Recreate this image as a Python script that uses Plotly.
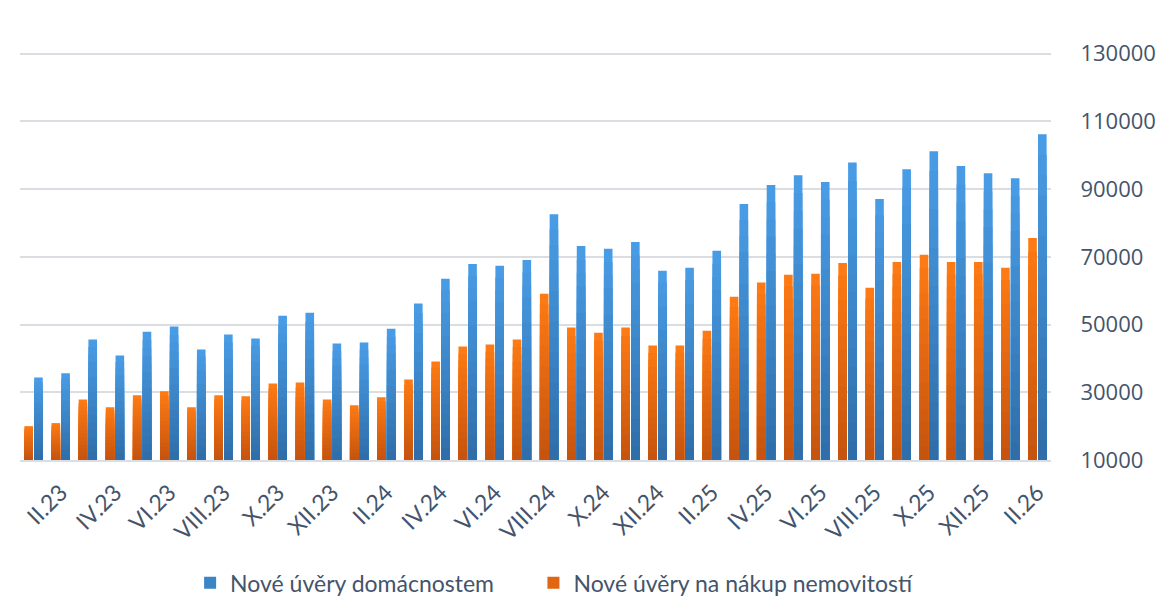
import plotly.graph_objects as go

categories = ["I.23", "II.23", "III.23", "IV.23", "V.23", "VI.23", "VII.23", "VIII.23", "IX.23", "X.23", "XI.23", "XII.23",
              "I.24", "II.24", "III.24", "IV.24", "V.24", "VI.24", "VII.24", "VIII.24", "IX.24", "X.24", "XI.24", "XII.24",
              "I.25", "II.25", "III.25", "IV.25", "V.25", "VI.25", "VII.25", "VIII.25", "IX.25", "X.25", "XI.25", "XII.25",
              "I.26", "II.26"]

uvery_domacnostem = [34400, 35600, 45600, 40900, 47900, 49400, 42600, 47100, 45900, 52600, 53500, 44400,
                     44700, 48800, 56200, 63500, 67900, 67400, 69100, 82600, 73200, 72400, 74400, 65900,
                     66800, 71800, 85600, 91200, 94100, 92100, 97900, 87100, 95900, 101200, 96800, 94700,
                     93200, 106200]

uvery_nemovitosti = [20000, 20900, 27900, 25600, 29100, 30300, 25600, 29100, 28800, 32600, 32900, 27900,
                     26200, 28500, 33800, 39100, 43500, 44100, 45600, 59100, 49100, 47600, 49100, 43800,
                     43800, 48200, 58200, 62400, 64700, 65000, 68200, 60900, 68500, 70600, 68500, 68500,
                     66800, 75600]

tick_labels = categories[1::2]

y_min, y_max = 10000, 130000
y_tickvals = [10000, 30000, 50000, 70000, 90000, 110000, 130000]

FONT = "Lato, 'Open Sans', sans-serif"
FONT_Y = "'Open Sans', Lato, sans-serif"
TEXT = "#44546A"
GRID = "#DADEE3"

series = [
    ("Nové úvěry na nákup nemovitostí", uvery_nemovitosti, (255, 123, 20), (196, 83, 14), "o", "legend2"),
    ("Nové úvěry domácnostem", uvery_domacnostem, (73, 157, 231), (47, 109, 168), "b", "legend"),
]

N = 16


def mix(c1, c2, t):
    return "rgb({},{},{})".format(*[round(a * t + b * (1 - t)) for a, b in zip(c1, c2)])


fig = go.Figure()
for name, vals, top, bot, grp, leg in series:
    for k in range(N, 0, -1):
        frac = k / N
        ys = [y_min + (v - y_min) * frac for v in vals]
        col = mix(top, bot, (k - 0.5) / N)
        fig.add_trace(go.Bar(
            x=categories, y=ys, name=name,
            offsetgroup=grp,
            marker=dict(color=col, line=dict(width=0)),
            showlegend=(k == N // 2),
            legend=leg,
            hoverinfo="skip",
        ))

legend_font = dict(family=FONT, size=23, color=TEXT)

fig.update_layout(
    width=1163, height=602,
    margin=dict(l=12, r=120, t=44, b=150, autoexpand=False),
    paper_bgcolor="white", plot_bgcolor="white",
    barmode="group", bargap=0.28, bargroupgap=0.12,
    font=dict(family=FONT, size=22, color=TEXT),
    showlegend=True,
    legend=dict(orientation="h", x=0.165, xanchor="left", y=-0.301, yanchor="middle",
                font=legend_font, bgcolor="rgba(0,0,0,0)", borderwidth=0),
    legend2=dict(orientation="h", x=0.498, xanchor="left", y=-0.301, yanchor="middle",
                 font=legend_font, bgcolor="rgba(0,0,0,0)", borderwidth=0),
    xaxis=dict(
        type="category", categoryorder="array", categoryarray=categories,
        tickmode="array", tickvals=tick_labels, ticktext=tick_labels,
        tickangle=-45, ticks="outside", ticklen=8, tickcolor="rgba(0,0,0,0)",
        showgrid=False, showline=True, linecolor=GRID, linewidth=2,
        tickfont=dict(family=FONT, size=23, color=TEXT),
        automargin=False,
    ),
    yaxis=dict(
        side="right", range=[y_min, y_max + 500],
        tickmode="array", tickvals=y_tickvals,
        ticktext=[str(v) for v in y_tickvals],
        showgrid=True, gridcolor=GRID, gridwidth=2,
        zeroline=False, showline=False,
        ticks="outside", ticklen=24, tickcolor="rgba(0,0,0,0)",
        tickfont=dict(family=FONT_Y, size=22, color=TEXT),
        automargin=False,
    ),
)

fig.write_html("out.html")
